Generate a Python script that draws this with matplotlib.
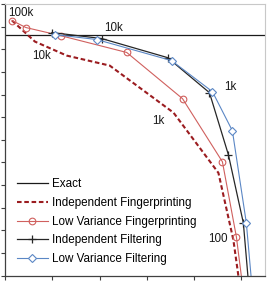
"""Precision vs recall for fingerprinting and filtering variants."""
import matplotlib
matplotlib.use("Agg")
import matplotlib.pyplot as plt

plt.rcParams["font.family"] = ["Liberation Sans", "DejaVu Sans"]

# recall (x) / precision (y)
exact_x = [0.45, 1.0]
exact_y = [0.9325, 0.9325]

indep_fp_x = [0.4648, 0.5133, 0.5808, 0.6715, 0.8065, 0.9015, 0.9331, 0.957]
indep_fp_y = [0.9635, 0.917, 0.886, 0.864, 0.760, 0.627, 0.479, 0.30]

lowvar_fp_x = [0.4648, 0.4943, 0.5681, 0.7074, 0.8255, 0.9099, 0.9395, 0.962]
lowvar_fp_y = [0.9635, 0.948, 0.930, 0.893, 0.791, 0.6516, 0.4856, 0.30]

indep_filt_x = [0.5492, 0.6546, 0.7939, 0.8825, 0.9226, 0.9542, 0.972]
indep_filt_y = [0.937, 0.9237, 0.8816, 0.8042, 0.667, 0.5166, 0.30]

lowvar_filt_x = [0.5555, 0.6441, 0.8023, 0.8888, 0.931, 0.9605, 0.9789]
lowvar_filt_y = [0.9325, 0.9215, 0.875, 0.8064, 0.7201, 0.5166, 0.30]

# point annotations: (text, x, y)
annotations = [
    ("100k", 0.4838, 0.980),
    ("10k", 0.680, 0.948),
    ("10k", 0.527, 0.886),
    ("1k", 0.9268, 0.8175),
    ("1k", 0.7738, 0.742),
    ("100", 0.9004, 0.481),
]

FS = 8.4

fig = plt.figure(figsize=(2.69, 2.85), dpi=100)
ax = fig.add_axes([5 / 269, 9.3 / 285, 260 / 269, 271.7 / 285])

ax.plot(exact_x, exact_y, color="#1a1a1a", lw=0.9, label="Exact")
ax.plot(indep_fp_x, indep_fp_y, color="#9b1c20", lw=1.5, ls=(0, (2.2, 1.3)),
        label="Independent Fingerprinting")
ax.plot(lowvar_fp_x, lowvar_fp_y, color="#d0605e", lw=0.8, marker="o", ms=4.8,
        mfc="none", mec="#d0605e", mew=0.8, label="Low Variance Fingerprinting")
ax.plot(indep_filt_x, indep_filt_y, color="#262626", lw=0.9, marker="+", ms=6,
        mew=0.9, label="Independent Filtering")
ax.plot(lowvar_filt_x, lowvar_filt_y, color="#5b87c5", lw=0.8, marker="D", ms=3.8,
        mfc="white", mec="#5b87c5", mew=0.8, label="Low Variance Filtering")

for text, x, y in annotations:
    ax.text(x, y, text, fontsize=FS, ha="center", va="center", color="#1a1a1a")

ax.set_xlim(0.45, 1.0)
ax.set_ylim(0.4, 1.0)
ax.set_xticks([0.45, 0.55, 0.65, 0.75, 0.85, 0.95])
ax.set_yticks([0.4 + 0.05 * i for i in range(13)])
ax.tick_params(direction="out", length=3, width=0.8, color="#404040",
               labelleft=False, labelbottom=False)

for side in ["left", "bottom"]:
    ax.spines[side].set_color("#404040")
    ax.spines[side].set_linewidth(0.9)
for side in ["top", "right"]:
    ax.spines[side].set_color("#c8c8c8")
    ax.spines[side].set_linewidth(0.8)

ax.legend(loc="upper left", bbox_to_anchor=(0.046, 0.3595), frameon=False,
          fontsize=FS, handlelength=2.65, handletextpad=0.35, labelspacing=0.585,
          borderpad=0, borderaxespad=0)

fig.savefig("out.png", dpi=100)
